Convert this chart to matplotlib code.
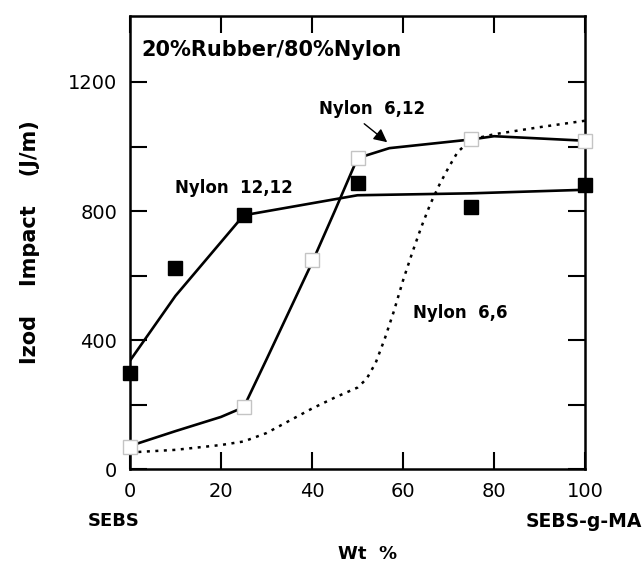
"""
Izod impact vs. SEBS-g-MA content, 20% rubber / 80% nylon blends
"""
import matplotlib
matplotlib.use('Agg')
import matplotlib.pyplot as plt

# ============================================================================
# DATA
# ============================================================================
wt = [0, 25, 40, 50, 75, 100]

# Nylon 12,12 - filled squares and fitted curve
n1212_x = [0, 10, 25, 50, 75, 100]
n1212_y = [297, 624, 787, 888, 813, 882]
n1212_fit_x = [0, 10, 25, 50, 75, 100]
n1212_fit_y = [336, 537, 787, 849, 855, 866]

# Nylon 6,12 - open squares and fitted curve
n612_y = [69, 192, 648, 964, 1022, 1018]
n612_fit_x = [0, 10, 20, 25, 30, 35, 40, 45, 50, 57, 75, 80, 100]
n612_fit_y = [72, 118, 162, 192, 340, 490, 640, 800, 964, 995, 1022, 1032, 1018]

# Nylon 6,6 - dotted curve
n66_x = [0, 10, 20, 25, 30, 35, 40, 45, 50, 52, 54, 56, 58, 60, 62, 64,
         66, 68, 70, 72, 75, 80, 90, 100]
n66_y = [52, 60, 75, 86, 112, 150, 188, 222, 253, 280, 330, 405, 490, 585,
         670, 750, 822, 882, 935, 983, 1022, 1038, 1060, 1080]

xticks = [0, 20, 40, 60, 80, 100]
yticks = [0, 200, 400, 600, 800, 1000, 1200]
ytick_labels = ['0', '', '400', '', '800', '', '1200']

# ============================================================================
# PLOT
# ============================================================================
fig = plt.figure(figsize=(6.43, 5.66), dpi=100)
ax = fig.add_axes([0.202, 0.171, 0.708, 0.801])

ax.plot(n1212_fit_x, n1212_fit_y, color='black', lw=1.9, zorder=2)
ax.plot(n612_fit_x, n612_fit_y, color='black', lw=1.9, zorder=2)
ax.plot(n66_x, n66_y, color='black', lw=1.8, ls=(0, (1.2, 2.2)), zorder=2)

ax.plot(n1212_x, n1212_y, ls='none', marker='s', ms=10, color='black', zorder=3, clip_on=False)
ax.plot(wt, n612_y, ls='none', marker='s', ms=9.5, mfc='white', mec='#c4c4c4',
        mew=1.0, zorder=3, clip_on=False)

ax.set_xlim(0, 100)
ax.set_ylim(0, 1405)
ax.set_xticks(xticks)
ax.set_yticks(yticks)
ax.set_yticklabels(ytick_labels)
ax.tick_params(direction='in', length=12, width=1.5, top=True, right=True,
               labelsize=14, pad=9)
for s in ax.spines.values():
    s.set_linewidth(1.8)

ax.text(2.6, 1299, '20%Rubber/80%Nylon', fontsize=15, fontweight='bold',
        va='center', ha='left')
ax.text(9.9, 871, 'Nylon  12,12', fontsize=12, fontweight='bold', va='center')
ax.text(41.5, 1116, 'Nylon  6,12', fontsize=12, fontweight='bold', va='center')
ax.text(62.2, 484, 'Nylon  6,6', fontsize=12, fontweight='bold', va='center')
ax.annotate('', xy=(57, 1008), xytext=(51, 1076),
            arrowprops=dict(arrowstyle='-|>', color='black', lw=1,
                            mutation_scale=20))

ax.set_ylabel('Izod    Impact    (J/m)', fontsize=15, fontweight='bold', labelpad=20)
fig.text(0.137, 0.079, 'SEBS', fontsize=13, fontweight='bold', ha='left', va='center')
fig.text(0.998, 0.079, 'SEBS-g-MA', fontsize=13.5, fontweight='bold', ha='right', va='center')
fig.text(0.571, 0.022, 'Wt  %', fontsize=13, fontweight='bold', ha='center', va='center')

plt.savefig('out.png', dpi=100)
